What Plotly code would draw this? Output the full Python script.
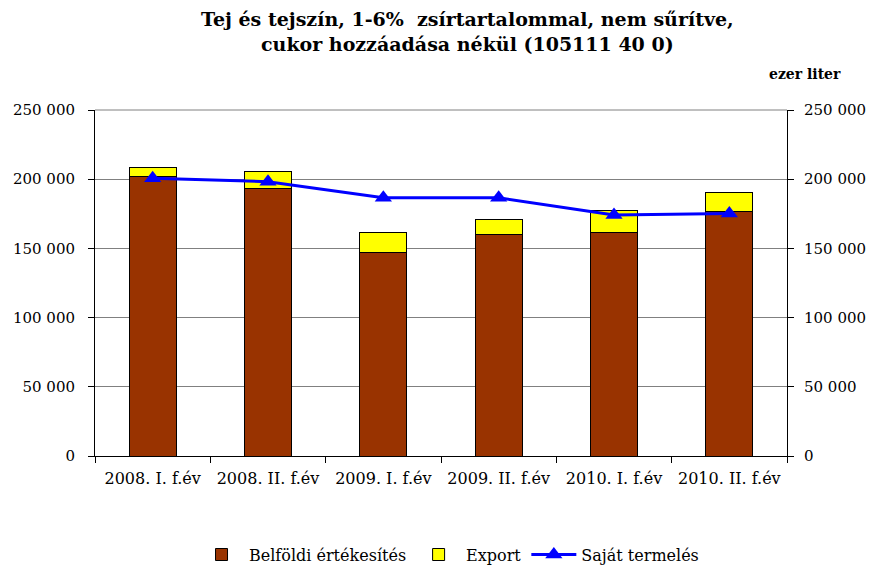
import plotly.graph_objects as go

categories = ["2008. I. f.év", "2008. II. f.év", "2009. I. f.év", "2009. II. f.év", "2010. I. f.év", "2010. II. f.év"]
belfoldi = [201800, 193400, 147200, 159700, 161600, 177000]
export = [6300, 12500, 14400, 11500, 15700, 13500]
sajat = [200600, 198200, 186600, 186600, 174100, 175300]
tick_vals = [0, 50000, 100000, 150000, 200000, 250000]
tick_text = ["0", "50 000", "100 000", "150 000", "200 000", "250 000"]

FONT = "DejaVu Serif"

fig = go.Figure()
fig.add_trace(go.Bar(x=categories, y=belfoldi, name="Belföldi értékesítés",
                     marker=dict(color="#993300", line=dict(color="black", width=1))))
fig.add_trace(go.Bar(x=categories, y=export, name="Export",
                     marker=dict(color="#FFFF00", line=dict(color="black", width=1))))
fig.add_trace(go.Scatter(x=categories, y=sajat, name="Saját termelés", mode="lines+markers",
                         line=dict(color="#0000FF", width=3),
                         marker=dict(symbol="triangle-up", size=15, color="#0000FF")))
# invisible trace for right axis
fig.add_trace(go.Scatter(x=categories, y=sajat, yaxis="y2", showlegend=False,
                         mode="markers", marker=dict(opacity=0), hoverinfo="skip"))

fig.update_layout(
    width=859, height=564,
    barmode="stack", bargap=0.595,
    plot_bgcolor="white", paper_bgcolor="white",
    margin=dict(l=87, r=80, t=102, b=116, autoexpand=False),
    font=dict(family=FONT, size=16, color="black"),
    xaxis=dict(showline=True, linecolor="black", linewidth=1, ticks="outside",
               tickson="boundaries", ticklen=6, tickcolor="black",
               tickfont=dict(size=16), ticklabelstandoff=8, automargin=False),
    yaxis=dict(range=[0, 250000], tickvals=tick_vals, ticktext=tick_text,
               showgrid=True, gridcolor="#808080", gridwidth=1,
               showline=True, linecolor="black", linewidth=1, ticks="outside",
               ticklen=6, tickcolor="black", tickfont=dict(size=15), zeroline=False,
               ticklabelstandoff=10, automargin=False),
    yaxis2=dict(range=[0, 250000], tickvals=tick_vals, ticktext=tick_text,
                overlaying="y", side="right", showgrid=False,
                showline=True, linecolor="black", linewidth=1, ticks="outside",
                ticklen=6, tickcolor="black", tickfont=dict(size=15), zeroline=False,
                ticklabelstandoff=7, automargin=False),
    legend=dict(orientation="h", x=0.5116, xanchor="center", y=-0.285, yanchor="middle",
                font=dict(size=16), traceorder="normal", itemwidth=45),
    shapes=[dict(type="line", xref="paper", yref="paper", x0=0, x1=1, y0=1, y1=1,
                 line=dict(color="#808080", width=1))],
    annotations=[
        dict(text="<b>Tej és tejszín, 1-6%  zsírtartalommal, nem sűrítve,<br>cukor hozzáadása nékül (105111 40 0)</b>",
             xref="paper", yref="paper", x=0.539, y=1.228, xanchor="center", yanchor="middle",
             showarrow=False, font=dict(family=FONT, size=19)),
        dict(text="<b>ezer liter</b>", xref="paper", yref="paper",
             x=1.081, y=1.104, xanchor="right", yanchor="middle",
             showarrow=False, font=dict(family=FONT, size=14)),
    ],
)

fig.write_html("out.html")
